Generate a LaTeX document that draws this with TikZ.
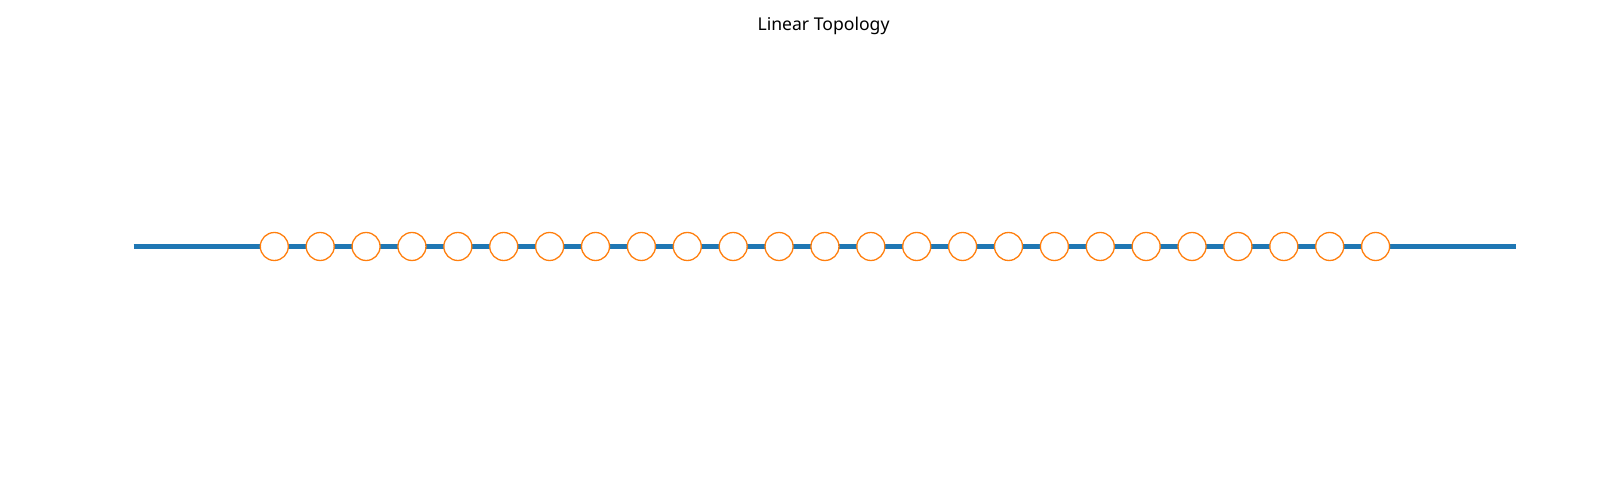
\documentclass[tikz,border=0pt]{standalone}
\usepackage{fontspec}
\setmainfont{Noto Sans}
\definecolor{busblue}{HTML}{1F77B4}
\definecolor{hostorange}{HTML}{FF7F0E}
\tikzset{
  host/.style={circle, draw=hostorange, fill=white, line width=0.65pt, minimum size=14pt, inner sep=0pt},
  bus/.style={draw=busblue, line width=2.7pt}
}

\begin{document}
\begin{tikzpicture}[x=0.5pt,y=-0.5pt]
\useasboundingbox (0,0) rectangle (1600,496);
\node[anchor=base, font=\fontsize{8.8pt}{10pt}\selectfont] (title) at (823.5,31) {Linear Topology};
% the cable
\coordinate (lend) at (133.5,246.5);
\coordinate (rend) at (1515.5,246.5);
\draw[bus] (lend)--(rend);
% hosts on the cable
\foreach \i in {1,...,25}
  \node[host] (h\i) at ({274.3+(\i-1)*45.887},246.5) {};
\end{tikzpicture}
\end{document}
